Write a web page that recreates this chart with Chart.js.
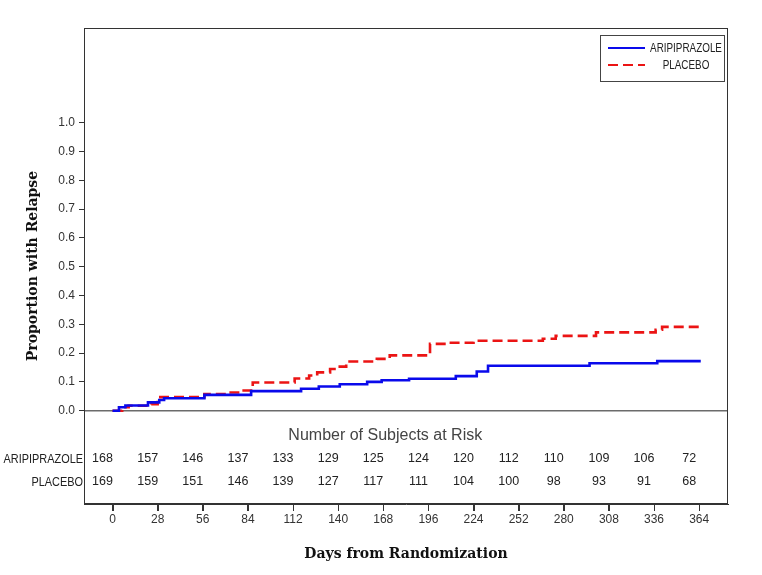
<!DOCTYPE html>
<html>
<head>
<meta charset="utf-8">
<script src="https://cdn.jsdelivr.net/npm/chart.js@4.4.1/dist/chart.umd.min.js"></script>
<style>
html, body { margin: 0; padding: 0; background: #fff; }
</style>
</head>
<body>
<canvas id="kmchart" width="762" height="575"></canvas>
<script>
const kmChart = document.getElementById("kmchart");

// tick labels
const dayTicks = [0, 28, 56, 84, 112, 140, 168, 196, 224, 252, 280, 308, 336, 364];
const proportionTicks = [0.0, 0.1, 0.2, 0.3, 0.4, 0.5, 0.6, 0.7, 0.8, 0.9, 1.0];

// groups
const groupNames = ["ARIPIPRAZOLE", "PLACEBO"];

// Kaplan-Meier steps (day of event, cumulative proportion with relapse)
const aripDays = [0, 4, 8, 22, 29, 32, 57, 86, 117, 128, 141, 158, 167, 184, 213, 226, 233, 296, 338, 365];
const aripProp = [0, 0.012, 0.018, 0.029, 0.037, 0.043, 0.055, 0.068, 0.076, 0.084, 0.092, 0.100, 0.106, 0.111, 0.120, 0.136, 0.156, 0.165, 0.172, 0.172];

const placDays = [0, 6, 10, 24, 28, 57, 72, 80, 87, 113, 122, 127, 135, 141, 145, 164, 172, 197, 209, 224, 267, 275, 300, 337, 341, 365];
const placProp = [0, 0.012, 0.017, 0.023, 0.047, 0.058, 0.063, 0.070, 0.098, 0.112, 0.122, 0.133, 0.145, 0.153, 0.171, 0.180, 0.192, 0.232, 0.236, 0.243, 0.250, 0.260, 0.272, 0.281, 0.291, 0.291];

// number of subjects at risk at each day tick
const aripAtRisk = [168, 157, 146, 137, 133, 129, 125, 124, 120, 112, 110, 109, 106, 72];
const placAtRisk = [169, 159, 151, 146, 139, 127, 117, 111, 104, 100, 98, 93, 91, 68];

function toPoints(days, values) {
    return days.map((d, i) => ({ x: d, y: values[i] }));
}

const sansFont = '"Liberation Sans", Arial, sans-serif';

// no narrow font installed, so squeeze the regular one
function fillNarrow(ctx, text, x, y, align, squeeze) {
    ctx.save();
    ctx.translate(x, y);
    ctx.scale(squeeze, 1);
    ctx.textAlign = align;
    ctx.fillText(text, 0, 0);
    ctx.restore();
}

// box, zero line, x tick marks, at-risk table and legend
const kmDecor = {
    id: "kmDecor",
    beforeDatasetsDraw(chart) {
        const { ctx, chartArea, scales } = chart;
        const y0 = scales.y.getPixelForValue(0);
        ctx.save();
        ctx.strokeStyle = "#6b6b6b";
        ctx.lineWidth = 1.5;
        ctx.beginPath();
        ctx.moveTo(chartArea.left, y0);
        ctx.lineTo(chartArea.right, y0);
        ctx.stroke();
        ctx.restore();
    },
    afterDraw(chart) {
        const { ctx, chartArea, scales } = chart;
        const x = scales.x;
        ctx.save();

        // frame
        ctx.strokeStyle = "#333";
        ctx.lineWidth = 1;
        ctx.strokeRect(chartArea.left + 0.5, chartArea.top + 0.5,
            chartArea.right - chartArea.left - 1, chartArea.bottom - chartArea.top - 1);

        // x tick marks
        ctx.beginPath();
        dayTicks.forEach(d => {
            const px = Math.round(x.getPixelForValue(d)) + 0.5;
            ctx.moveTo(px, chartArea.bottom + 1);
            ctx.lineTo(px, chartArea.bottom + 7);
        });
        ctx.stroke();

        // at risk table
        ctx.textBaseline = "middle";
        ctx.textAlign = "center";
        ctx.fillStyle = "#444";
        ctx.font = "16px " + sansFont;
        ctx.fillText("Number of Subjects at Risk", x.getPixelForValue(168) + 2, 436);

        const rows = [aripAtRisk, placAtRisk];
        const rowY = [459, 482];
        rows.forEach((row, r) => {
            ctx.fillStyle = "#222";
            ctx.font = "13px " + sansFont;
            fillNarrow(ctx, groupNames[r], 83, rowY[r], "right", 0.84);
            ctx.font = "12.5px " + sansFont;
            ctx.textAlign = "center";
            row.forEach((n, i) => {
                ctx.fillText(String(n), x.getPixelForValue(dayTicks[i]) - 10, rowY[r]);
            });
        });

        // legend
        const lx = 600, ly = 35, lw = 124, lh = 46;
        ctx.strokeStyle = "#444";
        ctx.lineWidth = 1;
        ctx.strokeRect(lx + 0.5, ly + 0.5, lw, lh);
        chart.data.datasets.forEach((ds, i) => {
            const yy = ly + 13 + i * 17;
            ctx.strokeStyle = ds.borderColor;
            ctx.lineWidth = i === 0 ? 1.8 : 2.2;
            ctx.setLineDash(ds.borderDash || []);
            ctx.beginPath();
            ctx.moveTo(lx + 8, yy);
            ctx.lineTo(lx + 45, yy);
            ctx.stroke();
            ctx.setLineDash([]);
            ctx.fillStyle = "#222";
            ctx.font = "13px " + sansFont;
            fillNarrow(ctx, ds.label, lx + 86, yy, "center", 0.76);
        });

        ctx.restore();
    }
};

const kmChartInstance = new Chart(kmChart, {
    type: "line",
    data: {
        datasets: [
            {
                label: groupNames[0],
                data: toPoints(aripDays, aripProp),
                borderColor: "rgb(10, 10, 235)",
                borderWidth: 2.6,
                stepped: "before",
                pointRadius: 0,
                fill: false
            },
            {
                label: groupNames[1],
                data: toPoints(placDays, placProp),
                borderColor: "rgb(235, 20, 20)",
                borderWidth: 2.6,
                borderDash: [10, 5],
                stepped: "before",
                pointRadius: 0,
                fill: false
            }
        ]
    },
    options: {
        responsive: false,
        animation: false,
        devicePixelRatio: 1,
        layout: {
            padding: { top: 28, right: 34, left: 0, bottom: 0 }
        },
        plugins: {
            legend: { display: false },
            tooltip: { enabled: false }
        },
        scales: {
            x: {
                type: "linear",
                min: -17.7,
                max: 381.9,
                afterBuildTicks: (scale) => {
                    scale.ticks = dayTicks.map(v => ({ value: v }));
                },
                afterFit: (scale) => { scale.height = 71; },
                grid: {
                    drawOnChartArea: false,
                    drawTicks: true,
                    tickLength: 7,
                    color: "#333",
                    tickColor: "#333"
                },
                border: { display: true, color: "#333", width: 1 },
                ticks: {
                    padding: 1,
                    maxRotation: 0,
                    autoSkip: false,
                    color: "#333",
                    font: { family: sansFont, size: 12 },
                    callback: (v) => String(v)
                },
                title: {
                    display: true,
                    text: "Days from Randomization",
                    color: "#111",
                    font: { family: '"DejaVu Serif", serif', size: 14, weight: "bold" },
                    padding: { top: 0, bottom: 12 }
                }
            },
            y: {
                type: "linear",
                min: -0.324,
                max: 1.329,
                afterBuildTicks: (scale) => {
                    scale.ticks = proportionTicks.map(v => ({ value: v }));
                },
                afterFit: (scale) => { scale.width = 84; },
                grid: {
                    drawOnChartArea: false,
                    drawTicks: true,
                    tickLength: 5,
                    color: "#333",
                    tickColor: "#333"
                },
                border: { display: true, color: "#333", width: 1 },
                ticks: {
                    padding: 4,
                    autoSkip: false,
                    color: "#333",
                    font: { family: sansFont, size: 12 },
                    callback: (v) => Number(v).toFixed(1)
                },
                title: {
                    display: true,
                    text: "Proportion with Relapse",
                    color: "#111",
                    font: { family: '"DejaVu Serif", serif', size: 14, weight: "bold" },
                    padding: { top: 25, bottom: 0 }
                }
            }
        }
    },
    plugins: [kmDecor]
});
</script>
</body>
</html>
